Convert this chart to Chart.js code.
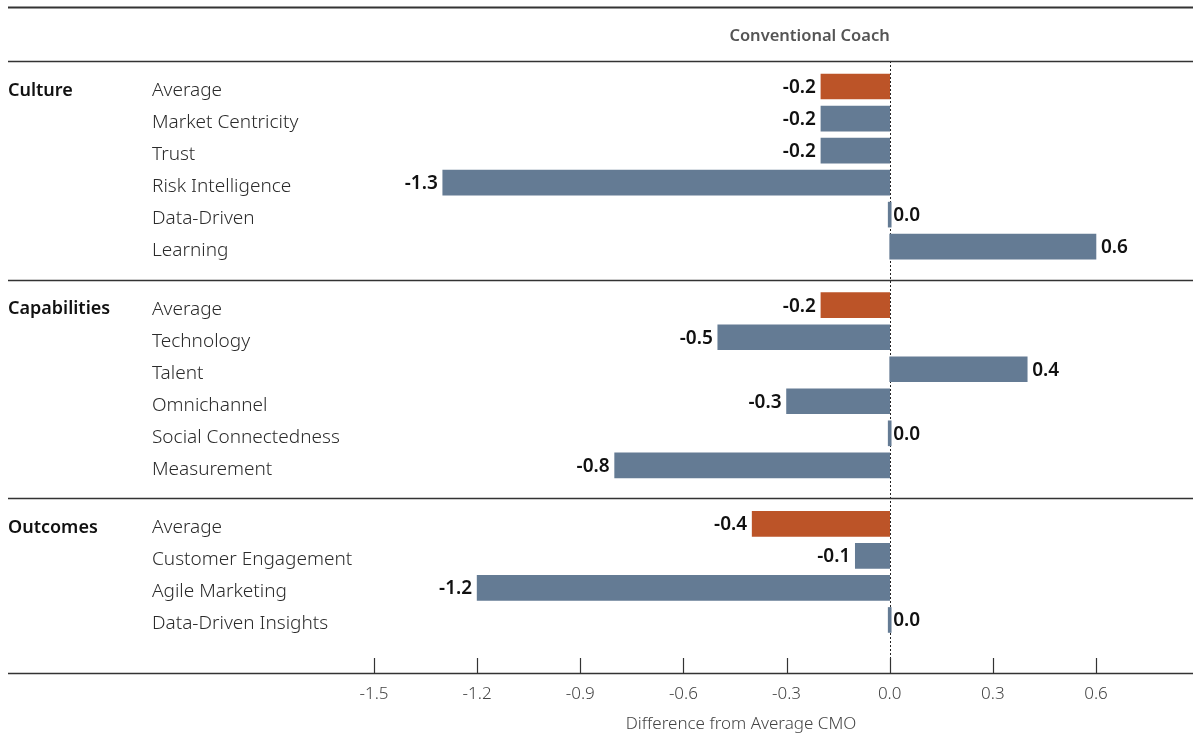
<!DOCTYPE html>
<html>
<head>
<meta charset="utf-8">
<title>Conventional Coach</title>
<script src="https://cdn.jsdelivr.net/npm/chart.js@4.4.1/dist/chart.umd.min.js"></script>
<style>
    html, body { margin: 0; padding: 0; background: #ffffff; }
    canvas { display: block; }
</style>
</head>
<body>
<canvas id="coachChart" width="1193" height="734"></canvas>
<script>
// Values per group (difference from the average CMO)
const GROUPS = ['Culture', 'Capabilities', 'Outcomes'];

const CULTURE_ITEMS = ['Average', 'Market Centricity', 'Trust', 'Risk Intelligence', 'Data-Driven', 'Learning'];
const CULTURE_VALUES = [-0.2, -0.2, -0.2, -1.3, 0.0, 0.6];

const CAPABILITY_ITEMS = ['Average', 'Technology', 'Talent', 'Omnichannel', 'Social Connectedness', 'Measurement'];
const CAPABILITY_VALUES = [-0.2, -0.5, 0.4, -0.3, 0.0, -0.8];

const OUTCOME_ITEMS = ['Average', 'Customer Engagement', 'Agile Marketing', 'Data-Driven Insights'];
const OUTCOME_VALUES = [-0.4, -0.1, -1.2, 0.0];

const X_TICKS = [-1.5, -1.2, -0.9, -0.6, -0.3, 0.0, 0.3, 0.6];
const SERIES_NAME = 'Conventional Coach';
const AXIS_TITLE = 'Difference from Average CMO';

// Row layout on the vertical scale
const ROW_STEP = 32;
const GROUP_PAD_TOP = 25.5;
const GROUP_PAD_BOTTOM = 33;
const END_PAD = 20;

const AVERAGE_COLOR = '#bc5428';
const ITEM_COLOR = '#647b94';
const LINE_COLOR = '#333333';
const FONT = '"Noto Sans", "Open Sans", sans-serif';

const groupItems = [CULTURE_ITEMS, CAPABILITY_ITEMS, OUTCOME_ITEMS];
const groupValues = [CULTURE_VALUES, CAPABILITY_VALUES, OUTCOME_VALUES];

const rows = [];
const groupStarts = [];
let cursor = 0;
groupItems.forEach((items, g) => {
    groupStarts.push(cursor);
    items.forEach((label, i) => {
        rows.push({
            pos: cursor + GROUP_PAD_TOP + i * ROW_STEP,
            label: label,
            value: groupValues[g][i],
            group: g,
            first: i === 0
        });
    });
    cursor += GROUP_PAD_TOP + (items.length - 1) * ROW_STEP + GROUP_PAD_BOTTOM;
});
const Y_MAX = cursor + END_PAD;

const labelByPos = {};
rows.forEach(r => { labelByPos[r.pos] = r.label; });

const frame = {
    id: 'frame',
    beforeDatasetsDraw(chart) {
        const { ctx, chartArea, scales } = chart;
        const x0 = Math.round(scales.x.getPixelForValue(0)) + 0.5;
        ctx.save();
        ctx.strokeStyle = '#222222';
        ctx.lineWidth = 1;
        ctx.setLineDash([2, 2]);
        ctx.beginPath();
        ctx.moveTo(x0, chartArea.top);
        ctx.lineTo(x0, chartArea.bottom);
        ctx.stroke();
        ctx.restore();
    },
    afterDatasetsDraw(chart) {
        const { ctx } = chart;
        const meta = chart.getDatasetMeta(0);
        ctx.save();
        ctx.font = '600 19px ' + FONT;
        ctx.fillStyle = '#111111';
        ctx.textBaseline = 'middle';
        meta.data.forEach((bar, i) => {
            const v = rows[i].value;
            const text = v.toFixed(1);
            if (v < 0) {
                ctx.textAlign = 'right';
                ctx.fillText(text, bar.x - 5, bar.y + 1);
            } else {
                ctx.textAlign = 'left';
                ctx.fillText(text, bar.x + 5, bar.y + 1);
            }
        });
        ctx.restore();
    },
    afterDraw(chart) {
        const { ctx, chartArea, scales, width } = chart;
        const left = 8;
        const right = width;
        const hline = (y, w) => {
            ctx.lineWidth = w;
            ctx.beginPath();
            ctx.moveTo(left, y);
            ctx.lineTo(right, y);
            ctx.stroke();
        };
        ctx.save();
        ctx.strokeStyle = LINE_COLOR;

        // frame lines: top rule, header rule, group separators, axis line
        const topRule = 7.5;
        hline(topRule, 2);
        hline(chartArea.top + 0.5, 1.5);
        groupStarts.slice(1).forEach(s => {
            hline(Math.round(scales.y.getPixelForValue(s)) + 0.5, 1.5);
        });
        hline(chartArea.bottom + 0.5, 1.5);

        // tick marks rising from the axis line
        ctx.lineWidth = 1.2;
        scales.x.ticks.forEach(t => {
            const x = Math.round(scales.x.getPixelForValue(t.value)) + 0.5;
            ctx.beginPath();
            ctx.moveTo(x, chartArea.bottom - 15);
            ctx.lineTo(x, chartArea.bottom);
            ctx.stroke();
        });

        // series header, right edge on the zero line
        ctx.fillStyle = '#555555';
        ctx.font = '600 16.5px ' + FONT;
        ctx.textAlign = 'right';
        ctx.textBaseline = 'middle';
        ctx.fillText(SERIES_NAME, scales.x.getPixelForValue(0), (topRule + chartArea.top) / 2 + 2);

        // group names beside their first row
        ctx.fillStyle = '#111111';
        ctx.font = '600 18px ' + FONT;
        ctx.textAlign = 'left';
        rows.filter(r => r.first).forEach(r => {
            ctx.fillText(GROUPS[r.group], left, scales.y.getPixelForValue(r.pos) + 4);
        });
        ctx.restore();
    }
};

new Chart(document.getElementById('coachChart'), {
    type: 'bar',
    data: {
        datasets: [{
            label: SERIES_NAME,
            data: rows.map(r => ({ x: r.value, y: r.pos })),
            backgroundColor: rows.map(r => r.first ? AVERAGE_COLOR : ITEM_COLOR),
            borderWidth: 0,
            barThickness: 25,
            minBarLength: 3
        }]
    },
    options: {
        indexAxis: 'y',
        responsive: false,
        animation: false,
        devicePixelRatio: 1,
        layout: {
            padding: { top: 61, left: 152, right: 85, bottom: 0 }
        },
        scales: {
            x: {
                type: 'linear',
                min: -1.5,
                max: 0.635,
                grid: { display: false, drawTicks: false },
                border: { display: false },
                afterBuildTicks(scale) {
                    scale.ticks = X_TICKS.map(v => ({ value: v }));
                },
                afterFit(scale) {
                    scale.height = 61;
                    scale.paddingLeft = 0;
                    scale.paddingRight = 0;
                },
                ticks: {
                    padding: 11,
                    color: '#444444',
                    font: { family: FONT, size: 17, weight: 300 },
                    maxRotation: 0,
                    autoSkip: false,
                    callback: v => Number(v).toFixed(1)
                },
                title: {
                    display: true,
                    text: AXIS_TITLE,
                    color: '#444444',
                    font: { family: FONT, size: 17, weight: 300, lineHeight: 1.1 },
                    padding: { top: 2, bottom: 0 }
                }
            },
            y: {
                type: 'linear',
                min: 0,
                max: Y_MAX,
                reverse: true,
                offset: false,
                grid: { display: false },
                border: { display: false },
                afterBuildTicks(scale) {
                    scale.ticks = rows.map(r => ({ value: r.pos }));
                },
                afterFit(scale) {
                    scale.width = 222;
                    scale.paddingTop = 0;
                    scale.paddingBottom = 0;
                },
                ticks: {
                    crossAlign: 'far',
                    labelOffset: 4,
                    autoSkip: false,
                    color: '#2b2b2b',
                    font: { family: FONT, size: 19, weight: 300 },
                    callback: v => labelByPos[v] || ''
                }
            }
        },
        plugins: {
            legend: { display: false },
            tooltip: { enabled: false }
        }
    },
    plugins: [frame]
});
</script>
</body>
</html>
